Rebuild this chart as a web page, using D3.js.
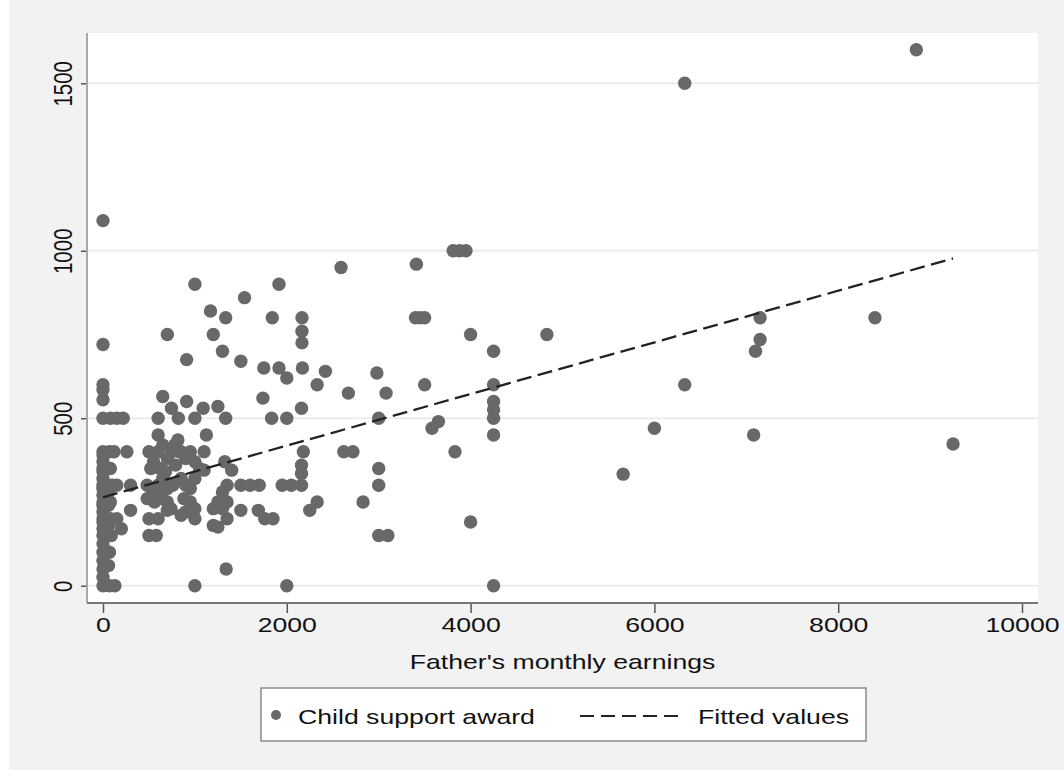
<!DOCTYPE html>
<html>
<head>
<meta charset="utf-8">
<script src="https://cdn.jsdelivr.net/npm/d3@7"></script>
<style>
  body { margin: 0; background: #ffffff; }
  text { font-family: "Liberation Sans", Arial, sans-serif; fill: #111; }
</style>
</head>
<body>
<div id="chart"></div>
<script>
// father's monthly earnings (x) and child support award (y)
const earnings = [
  0, 0, 0, 0, 0, 0, 0, 0, 0, 0, 0, 0, 0, 0, 0, 0, 0, 0, 0, 0, 0, 0, 0, 0, 0, 0, 0, 0,
  70, 130, 60, 70, 90, 60, 80, 60, 80, 60, 100, 150, 80, 70, 120, 80, 150, 220, 150, 200,
  260, 300, 300,
  500, 550, 600, 650, 700, 750, 790, 520, 620, 680, 780,
  480, 540, 600, 650, 700, 760, 480, 560, 640, 700, 740, 600,
  500, 600, 500, 580, 700, 600, 600, 650, 700, 745, 820, 815, 830,
  850, 900, 950, 1000, 1050, 850, 900, 950, 1000, 880, 950, 1000, 900, 850, 1000, 910, 910, 1000, 1000, 1000, 1090, 1100, 1100, 1125,
  1170, 1200, 1300, 1335, 1250, 1335, 1325, 1400, 1350, 1300, 1250, 1200, 1300, 1350, 1200, 1250, 1350, 1340,
  1500, 1540, 1500, 1500, 1600, 1700, 1690, 1760, 1850, 1740, 1750, 1842, 1835, 1915, 1915, 2000, 2000, 1950, 2050, 2000,
  2165, 2165, 2165, 2170, 2160, 2180, 2160, 2160, 2160, 2250, 2330, 2330, 2420,
  2590, 2670, 2620, 2720, 2830, 2980, 3000, 3000, 3000, 3000, 3100, 3080,
  3410, 3400, 3450, 3500, 3500, 3580, 3650, 3810, 3880, 3950, 3830, 4000, 4000,
  4250, 4250, 4250, 4250, 4250, 4250, 4250, 4830,
  5660, 6000, 6330, 6330, 7100, 7150, 7150, 7080, 8400, 8850, 9250
];
const award = [
  0, 25, 50, 75, 100, 125, 150, 170, 190, 200, 220, 240, 250, 270, 290, 300, 320, 340, 350, 370, 390, 400, 500, 555, 585, 600, 720, 1090,
  0, 0, 60, 100, 150, 180, 200, 240, 250, 280, 300, 300, 350, 400, 400, 500, 500, 500, 200, 170,
  400, 300, 225,
  400, 370, 400, 420, 380, 400, 360, 350, 350, 340, 420,
  300, 280, 300, 320, 290, 300, 260, 250, 260, 250, 230, 270,
  200, 200, 150, 150, 225, 450, 500, 565, 750, 530, 500, 435, 400,
  400, 380, 400, 370, 350, 320, 300, 290, 320, 260, 250, 230, 220, 210, 200, 550, 675, 500, 900, 0, 530, 345, 400, 450,
  820, 750, 700, 800, 535, 500, 370, 345, 300, 280, 250, 230, 230, 200, 180, 175, 250, 50,
  670, 860, 300, 225, 300, 300, 225, 200, 200, 560, 650, 800, 500, 650, 900, 620, 500, 300, 300, 0,
  800, 760, 725, 650, 530, 400, 360, 335, 300, 225, 250, 600, 640,
  950, 575, 400, 400, 250, 635, 500, 350, 300, 150, 150, 575,
  960, 800, 800, 800, 600, 470, 490, 1000, 1000, 1000, 400, 750, 190,
  700, 600, 550, 525, 500, 450, 0, 750,
  333, 470, 600, 1500, 700, 735, 800, 450, 800, 1600, 423
];

// fitted values line end points
const fitX = [0, 9250];
const fitY = [264, 977];

const xTicks = [0, 2000, 4000, 6000, 8000, 10000];
const yTicks = [0, 500, 1000, 1500];

const seriesNames = ["Child support award", "Fitted values"];
const xTitle = "Father's monthly earnings";

const W = 1064, H = 770;
const plot = { left: 87, right: 1038, top: 33, bottom: 603 };
const stretch = 1.3;
const fontSize = 20.5;

const svg = d3.select("#chart").append("svg")
  .attr("width", W).attr("height", H);

svg.append("rect")
  .attr("x", 9).attr("y", 0)
  .attr("width", W - 9).attr("height", H)
  .attr("fill", "#f2f2f2");

svg.append("rect")
  .attr("x", plot.left).attr("y", plot.top)
  .attr("width", plot.right - plot.left).attr("height", plot.bottom - plot.top)
  .attr("fill", "#ffffff");

const x = d3.scaleLinear().domain([0, 10000]).range([103, 1022]);
const y = d3.scaleLinear().domain([0, 1500]).range([585.7, 83.3]);

// grid lines
svg.append("g")
  .selectAll("line")
  .data(yTicks)
  .enter()
  .append("line")
  .attr("x1", plot.left).attr("x2", plot.right)
  .attr("y1", d => y(d)).attr("y2", d => y(d))
  .attr("stroke", "#ececec")
  .attr("stroke-width", 2);

// x axis
const gx = svg.append("g")
  .attr("transform", `translate(0, ${plot.bottom})`)
  .call(d3.axisBottom(x).tickValues(xTicks).tickFormat(d3.format("d"))
          .tickSize(10).tickSizeOuter(0).tickPadding(0));
gx.select(".domain").remove();
gx.selectAll(".tick line").attr("stroke", "#555").attr("stroke-width", 1.5);
gx.selectAll(".tick text")
  .attr("y", 29).attr("dy", 0)
  .attr("transform", `scale(${stretch},1)`)
  .style("font-size", fontSize + "px")
  .attr("fill", "#111");

// y axis
const gy = svg.append("g")
  .attr("transform", `translate(${plot.left}, 0)`)
  .call(d3.axisLeft(y).tickValues(yTicks).tickFormat(d3.format("d"))
          .tickSize(6).tickSizeOuter(0));
gy.select(".domain").remove();
gy.selectAll(".tick line").attr("stroke", "#555").attr("stroke-width", 1.5);
gy.selectAll(".tick text")
  .attr("x", 0).attr("y", 0).attr("dy", 0)
  .attr("text-anchor", "middle")
  .attr("transform", `translate(-15,0) scale(${stretch},1) rotate(-90)`)
  .style("font-size", fontSize + "px")
  .attr("fill", "#111");

svg.append("line")
  .attr("x1", plot.left).attr("x2", plot.left)
  .attr("y1", plot.top).attr("y2", plot.bottom)
  .attr("stroke", "#a8a8a8").attr("stroke-width", 2);

svg.append("line")
  .attr("x1", plot.left).attr("x2", plot.right)
  .attr("y1", plot.bottom).attr("y2", plot.bottom)
  .attr("stroke", "#777").attr("stroke-width", 2);

// points
const points = earnings.map((e, i) => ({ e: e, a: award[i] }));
svg.append("g")
  .selectAll("circle")
  .data(points)
  .enter()
  .append("circle")
  .attr("cx", d => x(d.e))
  .attr("cy", d => y(d.a))
  .attr("r", 6.7)
  .attr("fill", "#686868");

// fitted line
const fit = fitX.map((v, i) => [v, fitY[i]]);
svg.append("path")
  .attr("d", d3.line().x(d => x(d[0])).y(d => y(d[1]))(fit))
  .attr("fill", "none")
  .attr("stroke", "#222")
  .attr("stroke-width", 2.3)
  .attr("stroke-dasharray", "15,6.5");

// x title
svg.append("text")
  .attr("transform", `translate(${(plot.left + plot.right) / 2}, 669) scale(${stretch},1)`)
  .attr("text-anchor", "middle")
  .style("font-size", fontSize + "px")
  .text(xTitle);

// legend
const lg = svg.append("g");
lg.append("rect")
  .attr("x", 261).attr("y", 688)
  .attr("width", 605).attr("height", 53)
  .attr("fill", "#fff")
  .attr("stroke", "#8a8a8a").attr("stroke-width", 1.5);
lg.append("circle")
  .attr("cx", 276).attr("cy", 715).attr("r", 5)
  .attr("fill", "#686868");
lg.append("text")
  .attr("transform", `translate(298, 724) scale(${stretch},1)`)
  .style("font-size", fontSize + "px")
  .text(seriesNames[0]);
lg.append("line")
  .attr("x1", 580).attr("x2", 680)
  .attr("y1", 716).attr("y2", 716)
  .attr("stroke", "#222").attr("stroke-width", 2)
  .attr("stroke-dasharray", "14,7");
lg.append("text")
  .attr("transform", `translate(698, 724) scale(${stretch},1)`)
  .style("font-size", fontSize + "px")
  .text(seriesNames[1]);
</script>
</body>
</html>
